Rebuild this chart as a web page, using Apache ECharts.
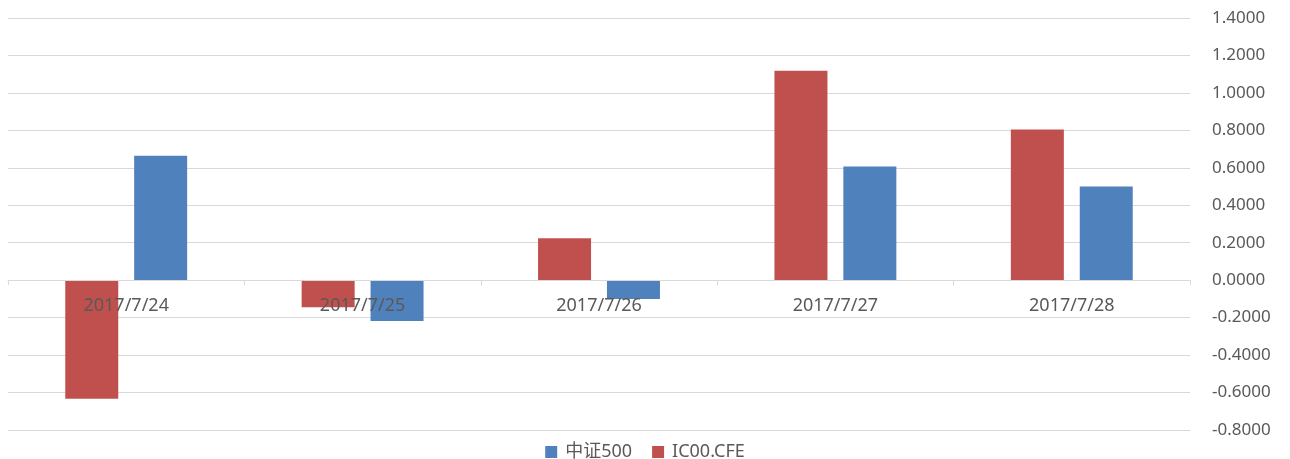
<!DOCTYPE html>
<html>
<head>
<meta charset="utf-8">
<script src="https://cdn.jsdelivr.net/npm/echarts@6/dist/echarts.min.js"></script>
<style>
  html, body { margin: 0; padding: 0; background: #fff; }
  #main { width: 1290px; height: 459px; }
</style>
</head>
<body>
<div id="main"></div>
<script>
  var categories = ['2017/7/24', '2017/7/25', '2017/7/26', '2017/7/27', '2017/7/28'];
  var csi500 = [0.665, -0.218, -0.100, 0.607, 0.500];
  var ic00 = [-0.633, -0.144, 0.224, 1.118, 0.804];

  var yMin = -0.8, yMax = 1.4;
  var gridTop = 18, gridBottom = 29, chartH = 459;
  // distance from the bottom of the plot up to the zero line
  var zeroOffset = (chartH - gridTop - gridBottom) * (0 - yMin) / (yMax - yMin);

  var chart = echarts.init(document.getElementById('main'));
  var option = {
    animation: false,
    textStyle: { fontFamily: '"Noto Sans", "Noto Sans CJK SC", sans-serif' },
    grid: { left: 8, right: 100, top: gridTop, bottom: gridBottom },
    legend: {
      data: ['中证500', 'IC00.CFE'],
      top: 438,
      left: 'center',
      itemWidth: 12,
      itemHeight: 12,
      itemGap: 20,
      icon: 'rect',
      textStyle: { color: '#595959', fontSize: 18, padding: [0, 0, 0, 3] }
    },
    xAxis: {
      type: 'category',
      data: categories,
      z: 10,
      offset: -zeroOffset,
      axisLine: { onZero: false, lineStyle: { color: '#d9d9d9', width: 1 } },
      axisTick: { show: true, length: 5, lineStyle: { color: '#d9d9d9' } },
      axisLabel: { color: '#595959', fontSize: 18, margin: 17 },
      splitLine: { show: false }
    },
    yAxis: {
      type: 'value',
      position: 'right',
      min: yMin,
      max: yMax,
      interval: 0.2,
      axisLine: { show: false },
      axisTick: { show: false },
      axisLabel: {
        color: '#595959',
        fontSize: 17,
        margin: 22,
        formatter: function (v) { return v.toFixed(4); }
      },
      splitLine: { lineStyle: { color: '#d9d9d9', width: 1 } }
    },
    series: [
      {
        name: 'IC00.CFE',
        type: 'bar',
        data: ic00,
        barWidth: 53,
        barGap: '30%',
        itemStyle: { color: '#c0504d' }
      },
      {
        name: '中证500',
        type: 'bar',
        data: csi500,
        barWidth: 53,
        barGap: '30%',
        itemStyle: { color: '#4f81bd' }
      }
    ]
  };
  chart.setOption(option);
</script>
</body>
</html>
